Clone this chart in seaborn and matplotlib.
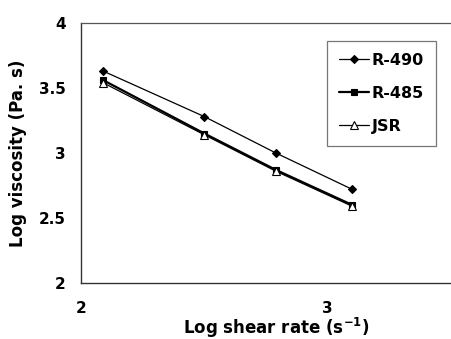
import matplotlib
matplotlib.use("Agg")
import matplotlib.pyplot as plt
import seaborn as sns
import pandas as pd

# Log shear rate (s^-1) at the four measurement points
log_shear_rate = [2.09, 2.50, 2.79, 3.10]

# Log viscosity (Pa. s) for each resin
r490 = [3.63, 3.28, 3.00, 2.72]
r485 = [3.56, 3.15, 2.87, 2.60]
jsr = [3.54, 3.14, 2.86, 2.59]

series_names = ["R-490", "R-485", "JSR"]
series_values = [r490, r485, jsr]

x_ticks = [2, 3]
y_ticks = [2, 2.5, 3, 3.5, 4]
y_tick_labels = ["2", "2.5", "3", "3.5", "4"]

frames = []
for name, vals in zip(series_names, series_values):
    frames.append(pd.DataFrame({"shear": log_shear_rate, "visc": vals, "resin": name}))
df = pd.concat(frames, ignore_index=True)

sns.set_theme(style="white", rc={
    "text.color": "black", "axes.labelcolor": "black",
    "xtick.color": "black", "ytick.color": "black",
})
plt.rcParams["font.family"] = ["DejaVu Sans"]
plt.rcParams["mathtext.fontset"] = "dejavusans"

fig = plt.figure(figsize=(4.51, 3.39), dpi=100)
ax = fig.add_axes([81 / 451, 56 / 339, 370 / 451, 260 / 339])

styles = {
    "R-490": dict(marker="D", markersize=4.5, markerfacecolor="black", markeredgecolor="black", linewidth=0.9),
    "R-485": dict(marker="s", markersize=5, markerfacecolor="black", markeredgecolor="black", linewidth=1.6),
    "JSR": dict(marker="^", markersize=5.5, markerfacecolor="white", markeredgecolor="black", linewidth=0.9),
}

for name in series_names:
    sub = df[df["resin"] == name]
    sns.lineplot(data=sub, x="shear", y="visc", ax=ax, color="black", label=name,
                 markeredgewidth=0.8, **styles[name])

ax.set_xlim(2, 3.5)
ax.set_ylim(2, 4)
ax.set_xticks(x_ticks)
ax.set_xticklabels([str(t) for t in x_ticks])
ax.set_yticks(y_ticks)
ax.set_yticklabels(y_tick_labels)

for lbl in ax.get_xticklabels() + ax.get_yticklabels():
    lbl.set_fontweight("bold")
    lbl.set_fontsize(11)

ax.tick_params(axis="both", which="both", length=2, width=0.6, color="#555555",
               direction="out")
ax.tick_params(axis="y", pad=9)
ax.tick_params(axis="x", pad=11)

for side in ["left", "bottom"]:
    ax.spines[side].set_color("#333333")
    ax.spines[side].set_linewidth(1.0)
ax.spines["top"].set_color("#555555")
ax.spines["top"].set_linewidth(0.9)
ax.spines["right"].set_visible(False)

ax.set_xlabel(r"Log shear rate (s$^{\mathbf{-1}}$)", fontsize=12, fontweight="bold")
ax.xaxis.set_label_coords(0.527, -0.125)
ax.set_ylabel("Log viscosity (Pa. s)", fontsize=12, fontweight="bold")
ax.yaxis.set_label_coords(-0.145, 0.5)

leg = ax.legend(loc="upper left", bbox_to_anchor=((327 - 81) / 370, 1 - (41 - 23) / 260),
                frameon=True, fancybox=False, prop={"weight": "bold", "size": 11.5},
                handlelength=1.85, handletextpad=0.2, labelspacing=1.12,
                borderpad=0.75, borderaxespad=0)
leg.get_frame().set_edgecolor("#555555")
leg.get_frame().set_linewidth(0.9)

fig.savefig("out.png", dpi=100)
